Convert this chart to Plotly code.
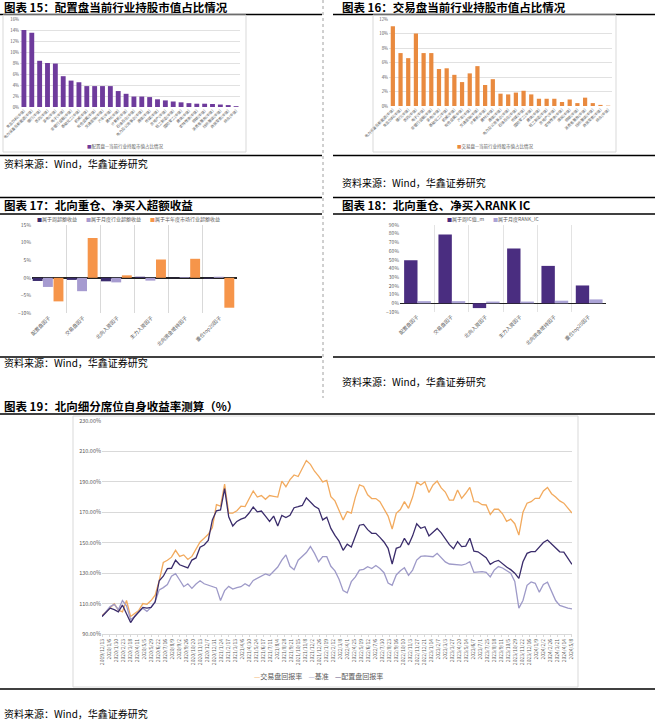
import plotly.graph_objects as go
import pandas as pd

W, H = 655, 724
def X(px): return px / W
def Y(py): return 1 - py / H

FONT = "Noto Sans CJK SC"

# ---------------- 图表15 ----------------
industries15 = ["食品饮料", "电力设备及新能源", "银行", "医药", "家电", "电子", "非银行金融",
                "基础化工", "机械", "有色金属", "交通运输", "汽车", "建材", "计算机", "石油石化",
                "电力及公用事业", "通信", "传媒", "房地产", "轻工制造", "国防军工", "建筑",
                "农林牧渔", "钢铁", "消费者服务", "纺织服装", "商贸零售", "综合"]
share15 = [14.0, 13.5, 8.4, 8.0, 7.9, 5.6, 4.8, 4.5, 3.8, 3.8, 3.8, 3.8, 2.9, 2.4, 1.9, 1.9,
           1.8, 1.4, 1.2, 1.0, 0.85, 0.7, 0.6, 0.6, 0.55, 0.45, 0.35, 0.15]

# ---------------- 图表16 ----------------
industries16 = ["电力设备及新能源", "食品饮料", "银行", "医药", "电子", "非银行金融", "家电",
                "基础化工", "机械", "有色金属", "汽车", "交通运输", "计算机", "建材", "通信",
                "电力及公用事业", "石油石化", "传媒", "国防军工", "建筑", "轻工制造", "房地产",
                "农林牧渔", "煤炭", "钢铁", "消费者服务", "纺织服装", "商贸零售", "综合"]
share16 = [11.0, 7.3, 6.6, 10.0, 7.3, 7.3, 5.1, 5.2, 4.3, 3.3, 4.5, 5.5, 2.9, 3.7, 1.7, 1.6,
           1.85, 2.1, 1.6, 1.0, 1.0, 1.0, 0.55, 0.9, 0.4, 1.15, 0.4, 0.15, 0.05]

# ---------------- 图表17 / 18 ----------------
factors = ["配置盘因子", "交易盘因子", "北向入资因子", "主力入资因子", "北向资金增持因子", "重仓top20因子"]
excess_week = [-0.9, -0.6, -1.0, 0.3, -0.1, -0.2]
excess_month = [-2.6, -3.8, -1.3, -0.8, 0.2, 0.3]
excess_half = [-6.7, 11.3, 0.7, 5.2, 5.4, -8.5]
ic_week = [49.5, 79.0, -5.5, 63.0, 43.0, 20.5]
rank_ic_month = [2.5, 2.5, 2.0, 2.0, 3.0, 4.5]

# ---------------- 图表19 ----------------
dates19 = pd.date_range("2019-12-13", periods=116, freq="14D")
trade_ret = [102, 104.5, 107, 109.8, 105.8, 104.5, 112, 101.5, 103.5, 105.5,
             110, 109.5, 112, 115.5, 125, 137, 138.5, 140.5, 145, 141,
             142, 139, 141, 146, 150.5, 153, 155.5, 160, 175, 174,
             188.5, 169.5, 169.5, 171, 174, 173.7, 179, 184, 180, 181,
             178.5, 181, 180.5, 180, 190.5, 186.8, 191.5, 194.5, 193.5, 199,
             204, 201.5, 197, 193.8, 190, 191, 180.3, 177.5, 171.5, 165,
             170.5, 169.5, 180, 188,
             187, 181.5, 179, 179, 177, 172.5, 167.5, 159, 169.3, 171.8,
             177, 172.6, 180, 190, 188, 190.1, 183, 188, 190.5, 186,
             183.3, 178, 178, 184.6, 179.2, 182.5, 186.3, 177, 176.8, 175,
             174.8, 168.5, 172, 172, 169, 164, 165.5, 162.5, 155, 170,
             176, 177, 179.2, 179.2, 184, 186.3, 182.2, 180, 177.5, 176,
             173, 169.5]
benchmark = [101.5, 104.5, 108, 109.5, 106, 112, 108.5, 99.5, 101.5, 104.5,
             107, 104.8, 107.5, 111.3, 119, 120.5, 122.5, 128, 129.6, 125.5,
             121.1, 123, 120, 122.8, 125, 123, 122.2, 121, 120.3, 112,
             118.5, 121.3, 119.5, 120.5, 121.1, 123, 121.5, 125.2, 126.5, 127.7,
             129.5, 128.5, 131, 134, 138.5, 142, 134.5, 132.2, 138.5, 141,
             143.5, 147.5, 143, 137.5, 140.8, 140.8, 134.5, 131.5, 126, 118.5,
             117, 124.4, 127.5, 132,
             132.5, 134.2, 133, 135, 133, 130.3, 123.5, 122, 128.8, 131.6,
             133.5, 128.5, 132, 138.6, 141, 141.3, 140.8, 140.8, 143, 139.9,
             137.4, 136, 135.7, 135.6, 135.3, 136, 137.5, 130.5, 130.8, 131,
             130.5, 127.5, 132.1, 134.3, 133.4, 131.5, 129.9, 124.5, 107, 112,
             122, 124.2, 123.3, 117.5, 122.5, 124, 118, 112, 108.8, 107.8,
             107, 106.5]
alloc_ret = [101.5, 104.5, 107, 106, 104.5, 109, 103, 97.5, 101.5, 104.7,
             107.5, 107, 107.5, 111, 125, 128, 133, 133.2, 138.5, 135.5,
             134.5, 133.5, 138.6, 140, 147, 148.5, 151.5, 165, 171, 171.5,
             185.5, 167, 161, 164, 165.5, 166.5, 169.5, 173.5, 170.3, 170.8,
             167.5, 164, 167.5, 161, 168, 166.5, 168, 173, 173.7, 174.5,
             179.5, 176.5, 174, 172.4, 165, 166.8, 159.4, 154.8, 151, 145,
             149, 147.2, 155, 161.5,
             162, 158.6, 156.2, 156.2, 153.5, 150.5, 146.3, 136, 146.3, 147.3,
             152.9, 148.5, 154.5, 162.5, 159.5, 160.5, 154.5, 157.3, 159.4, 156.5,
             152.8, 148.7, 146, 150.7, 147.4, 147.8, 152.9, 144.5, 144, 142.3,
             140.2, 135.8, 137.5, 138.4, 136, 134, 132.3, 130, 126.5, 137.5,
             143, 144.1, 144.1, 146.8, 150.1, 151.8, 149, 146.5, 144, 143.8,
             140, 135.8]

C15 = "#6E3B9C"
C16 = "#E98A3F"
C17 = ["#3B2C6E", "#A69BD0", "#F6954A"]
C18 = ["#4A2D80", "#ABA3D6"]
C19 = {"trade": "#F2AA5E", "bench": "#9E9AC8", "alloc": "#3A2C6B"}
GRID = "#D9D9D9"
TICK = "#595959"

fig = go.Figure()

fig.add_trace(go.Bar(x=[n + "(中信)" for n in industries15], y=share15, marker_color=C15,
                     width=0.62, xaxis="x", yaxis="y", showlegend=False))
fig.add_trace(go.Bar(x=[n + "(中信)" for n in industries16], y=share16, marker_color=C16,
                     width=0.55, xaxis="x2", yaxis="y2", showlegend=False))

offs17 = [-0.48, -0.18, 0.13]
for vals, col, off in zip([excess_week, excess_month, excess_half], C17, offs17):
    fig.add_trace(go.Bar(x=factors, y=vals, marker_color=col, width=0.29, offset=off,
                         xaxis="x3", yaxis="y3", showlegend=False))
for vals, col, off in zip([ic_week, rank_ic_month], C18, [-0.38, 0.01]):
    fig.add_trace(go.Bar(x=factors, y=vals, marker_color=col, width=0.39, offset=off,
                         xaxis="x4", yaxis="y4", showlegend=False))

for vals, key in [(trade_ret, "trade"), (benchmark, "bench"), (alloc_ret, "alloc")]:
    fig.add_trace(go.Scatter(x=dates19, y=[v / 100 for v in vals], mode="lines",
                             line=dict(color=C19[key], width=1.3),
                             xaxis="x5", yaxis="y5", showlegend=False))

small = dict(family=FONT, size=3.7, color=TICK)
ytk = dict(family=FONT, size=4.3, color=TICK)
tick19 = pd.date_range("2019-12-13", "2024-05-10", freq="24D")

fig.update_layout(
    template="none",
    width=W, height=H, margin=dict(l=0, r=0, t=0, b=0, pad=0, autoexpand=False),
    paper_bgcolor="white", plot_bgcolor="white", barmode="overlay",
    font=dict(family=FONT), hovermode=False,
    xaxis=dict(domain=[X(20), X(240)], type="category", tickangle=-45, tickfont=small,
               showgrid=False, showline=False, ticks="", anchor="y", automargin=False),
    yaxis=dict(domain=[Y(107), Y(19)], range=[0, 16], dtick=2, ticksuffix="%",
               tickfont=ytk, gridcolor=GRID, gridwidth=0.8, zeroline=False, anchor="x",
               automargin=False),
    xaxis2=dict(domain=[X(389), X(612)], type="category", tickangle=-45, tickfont=small,
                showgrid=False, showline=False, ticks="", anchor="y2", automargin=False),
    yaxis2=dict(domain=[Y(106), Y(19)], range=[0, 12], dtick=2, ticksuffix="%",
                tickfont=ytk, gridcolor=GRID, gridwidth=0.8, zeroline=False, anchor="x2",
                automargin=False),
    xaxis3=dict(domain=[X(32), X(237)], type="category", tickangle=-45,
                tickfont=dict(family=FONT, size=5, color=TICK), showgrid=True,
                tickson="boundaries", gridcolor=GRID, gridwidth=1, ticks="", anchor="y3",
                automargin=False),
    yaxis3=dict(domain=[Y(313), Y(225)], range=[-10, 15], dtick=5, ticksuffix="%",
                tickfont=dict(family=FONT, size=5, color=TICK), showgrid=False,
                zeroline=True, zerolinecolor="#222222", zerolinewidth=1.5, anchor="x3",
                automargin=False),
    xaxis4=dict(domain=[X(400), X(606)], type="category", tickangle=-45,
                tickfont=dict(family=FONT, size=5, color=TICK), showgrid=True,
                tickson="boundaries", gridcolor="#E3E3E3", gridwidth=1, ticks="", anchor="y4",
                automargin=False),
    yaxis4=dict(domain=[Y(312), Y(225)], range=[-10, 90], dtick=10, ticksuffix="%",
                tickfont=dict(family=FONT, size=5, color=TICK), showgrid=False,
                zeroline=True, zerolinecolor="#222222", zerolinewidth=1.5, anchor="x4",
                automargin=False),
    xaxis5=dict(domain=[X(102), X(572)], type="date",
                range=[dates19[0], dates19[-1]], tickvals=tick19, tickformat="%Y/%-m/%-d",
                tickangle=-90, tickfont=dict(family=FONT, size=5, color=TICK),
                showgrid=False, showline=True, linecolor=GRID, ticks="outside",
                ticklen=2, tickcolor=GRID, anchor="y5", automargin=False),
    yaxis5=dict(domain=[Y(634), Y(421)], range=[0.9, 2.3], tick0=0.9, dtick=0.2,
                tickformat=".2%", tickfont=dict(family=FONT, size=5.5, color=TICK),
                gridcolor=GRID, gridwidth=1, zeroline=False, anchor="x5", automargin=False),
)

shapes = []
def hline(x0, x1, y, w=1.5, c="black"):
    shapes.append(dict(type="line", xref="paper", yref="paper", x0=X(x0), x1=X(x1),
                       y0=Y(y), y1=Y(y), line=dict(color=c, width=w)))
def rect(x0, y0, x1, y1, c=GRID):
    shapes.append(dict(type="rect", xref="paper", yref="paper", x0=X(x0), x1=X(x1),
                       y0=Y(y1), y1=Y(y0), line=dict(color=c, width=1)))

hline(0, 322, 14.5); hline(333, 655, 14.5)
hline(0, 322, 155.5); hline(333, 655, 155.5)
hline(0, 322, 197.5); hline(333, 655, 197.5)
hline(0, 322, 214); hline(333, 655, 214)
hline(0, 322, 357); hline(333, 655, 357)
hline(0, 655, 414); hline(0, 655, 689)
rect(3, 15, 246, 152); rect(373, 15, 616, 152); rect(73, 416, 578, 687)
shapes.append(dict(type="line", xref="paper", yref="paper", x0=X(323), x1=X(323),
                   y0=Y(0), y1=Y(398), line=dict(color="#A0A0A0", width=1, dash="dot")))
fig.update_layout(shapes=shapes)

ann = []
def text(x, y, s, size=11, color="black", xanchor="left"):
    ann.append(dict(xref="paper", yref="paper", x=X(x), y=Y(y), text=s, showarrow=False,
                    xanchor=xanchor, yanchor="middle",
                    font=dict(family=FONT, size=size, color=color)))

text(2, 7, "<b>图表 15：配置盘当前行业持股市值占比情况</b>", 11.5)
text(340, 7, "<b>图表 16：交易盘当前行业持股市值占比情况</b>", 11.5)
text(2, 205, "<b>图表 17：北向重仓、净买入超额收益</b>", 11.5)
text(340, 205, "<b>图表 18：北向重仓、净买入RANK IC</b>", 11.5)
text(2, 406, "<b>图表 19：北向细分席位自身收益率测算（%）</b>", 11.5)
src = "资料来源：Wind，华鑫证券研究"
text(2, 163, src, 10)
text(340, 182, src, 10)
text(2, 362, src, 10)
text(340, 381, src, 10)
text(2, 713, src, 10)

sp = "&nbsp;" * 8
text(125, 146, f"<span style='color:{C15}'>■</span>配置盘—当前行业持股市值占比情况", 4.5, TICK, "center")
text(495, 146, f"<span style='color:{C16}'>■</span>交易盘—当前行业持股市值占比情况", 4.5, TICK, "center")
text(128, 219, f"<span style='color:{C17[0]}'>■</span>属于周超额收益{sp}"
               f"<span style='color:{C17[1]}'>■</span>属于月度行业超额收益{sp}"
               f"<span style='color:{C17[2]}'>■</span>属于半年度市场行业超额收益", 5, TICK, "center")
text(493, 219, f"<span style='color:{C18[0]}'>■</span>属于周IC值_m{sp}"
               f"<span style='color:{C18[1]}'>■</span>属于月度RANK_IC", 5, TICK, "center")
text(318, 676, f"<span style='color:{C19['trade']}'>—</span>交易盘回报率&nbsp;&nbsp;&nbsp;&nbsp;"
               f"<span style='color:{C19['bench']}'>—</span>基准&nbsp;&nbsp;&nbsp;&nbsp;"
               f"<span style='color:{C19['alloc']}'>—</span>配置盘回报率", 7, TICK, "center")
fig.update_layout(annotations=ann)

fig.write_html("out.html", config={"displayModeBar": False, "staticPlot": True},
               post_script="document.body.style.margin='0px';document.body.style.overflow='hidden';")
